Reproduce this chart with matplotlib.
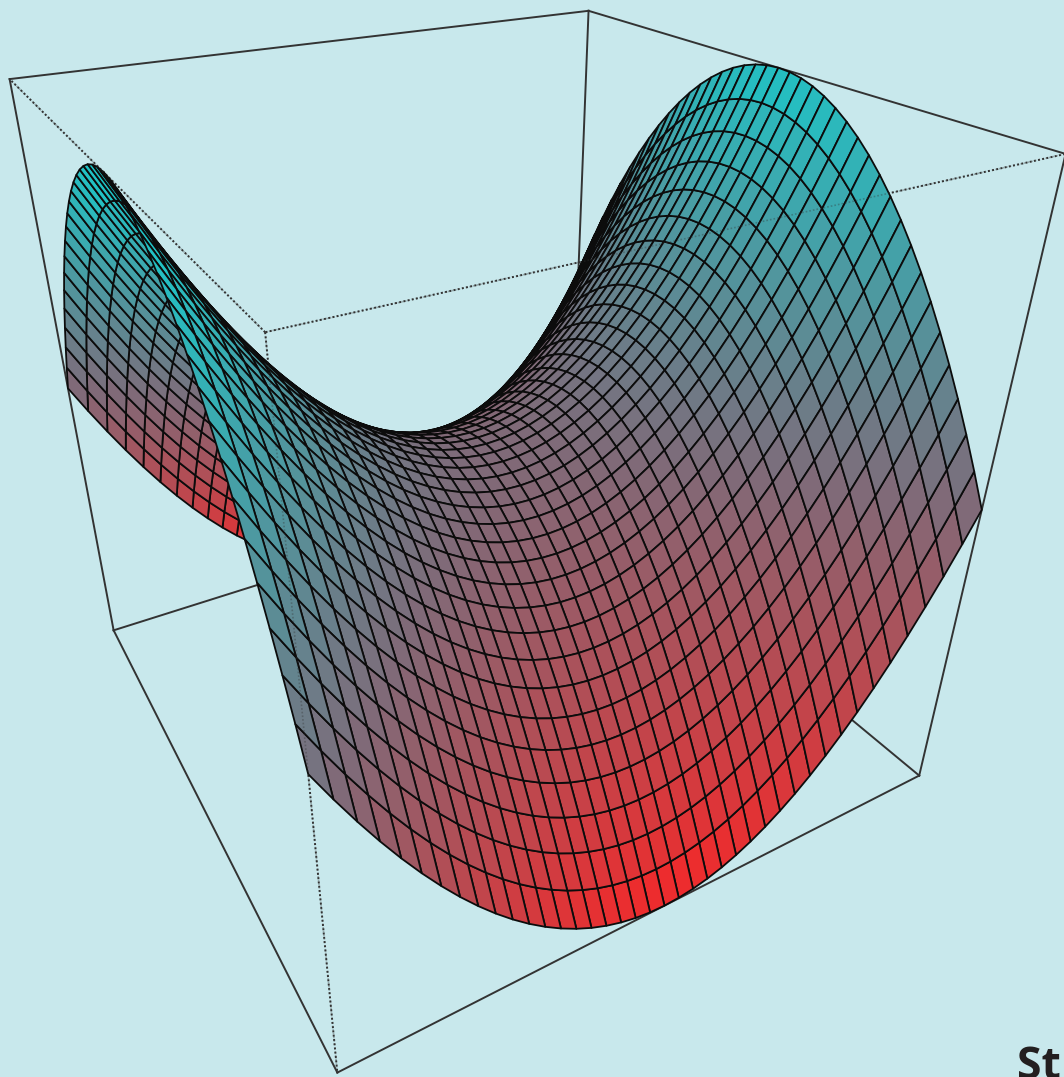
import numpy as np
import matplotlib
matplotlib.use("Agg")
import matplotlib.pyplot as plt
from matplotlib.colors import LinearSegmentedColormap

W, H = 1064, 1077
bgColor = "#c8e8ec"

# grid of the surface and its profile, height = rise[j] - rise[i]
grid = [-1.0, -0.95, -0.9, -0.85, -0.8, -0.75, -0.7, -0.65, -0.6, -0.55, -0.5, -0.45, -0.4, -0.35, -0.3, -0.25, -0.2, -0.15, -0.1, -0.05, 0.0,
        0.05, 0.1, 0.15, 0.2, 0.25, 0.3, 0.35, 0.4, 0.45, 0.5, 0.55, 0.6, 0.65, 0.7, 0.75, 0.8, 0.85, 0.9, 0.95, 1.0]
rise = [1.0, 0.9025, 0.81, 0.7225, 0.64, 0.5625, 0.49, 0.4225, 0.36, 0.3025, 0.25, 0.2025, 0.16, 0.1225, 0.09, 0.0625, 0.04, 0.0225, 0.01, 0.0025, 0.0,
        0.0025, 0.01, 0.0225, 0.04, 0.0625, 0.09, 0.1225, 0.16, 0.2025, 0.25, 0.3025, 0.36, 0.4225, 0.49, 0.5625, 0.64, 0.7225, 0.81, 0.9025, 1.0]

X, Y = np.meshgrid(grid, grid)
Z = np.array(rise)[:, None] - np.array(rise)[None, :]

cornersTop = [(-1, -1), (-1, 1), (1, 1), (1, -1)]
nearCorner = (1, -1)

fig = plt.figure(figsize=(W/100, H/100), dpi=100, facecolor=bgColor)
side = 2*0.095*6028*0.974
ax = fig.add_axes([(471 - side/2)/W, (H - 459 - side/2)/H, side/W, side/H], projection="3d", computed_zorder=False)
ax.set_xlim(-1, 1)
ax.set_ylim(-1, 1)
ax.set_zlim(-1, 1)
ax.set_box_aspect((1, 1, 0.997))
ax.view_init(elev=29.83, azim=-29.99, roll=0.03)
ax.set_proj_type("persp", focal_length=0.206)
ax.set_axis_off()
ax.patch.set_alpha(0)

def edge(a, b, **kw):
    return ax.plot([a[0], b[0]], [a[1], b[1]], [a[2], b[2]], clip_on=False, **kw)

solid = dict(color="#333333", lw=1.4, zorder=1)
dotted = dict(color="#333333", lw=1.4, ls=(0, (1, 1.2)), zorder=1)
faint = dict(color="#333333", lw=1.2, ls=(0, (1, 1.2)), alpha=0.35, zorder=3)
for i in range(4):
    p, q = cornersTop[i], cornersTop[(i+1) % 4]
    isDot = nearCorner in (p, q)
    edge((*p, 1), (*q, 1), **(dotted if isDot else solid))
    edge((*p, -1), (*q, -1), **solid)
    if isDot:
        edge((*p, 1), (*q, 1), **faint)
for p in cornersTop:
    edge((*p, 1), (*p, -1), **(dotted if p == nearCorner else solid))
edge((*nearCorner, 1), (*nearCorner, -1), **faint)

cmap = LinearSegmentedColormap.from_list("saddle", ["#f82626", "#806a78", "#1cc6c8"])
surf = ax.plot_surface(X, Y, Z, rcount=len(grid), ccount=len(grid), facecolors=cmap((Z+1)/2), shade=False,
                       edgecolor="#0c0c0c", linewidth=1.3, zorder=2)
surf.set_clip_on(False)

fig.text(1017/W, 1 - 1079/H, "St", fontsize=32, fontweight="bold", family="Open Sans", color="#231f20")
fig.savefig("out.png", dpi=100, facecolor=bgColor)
